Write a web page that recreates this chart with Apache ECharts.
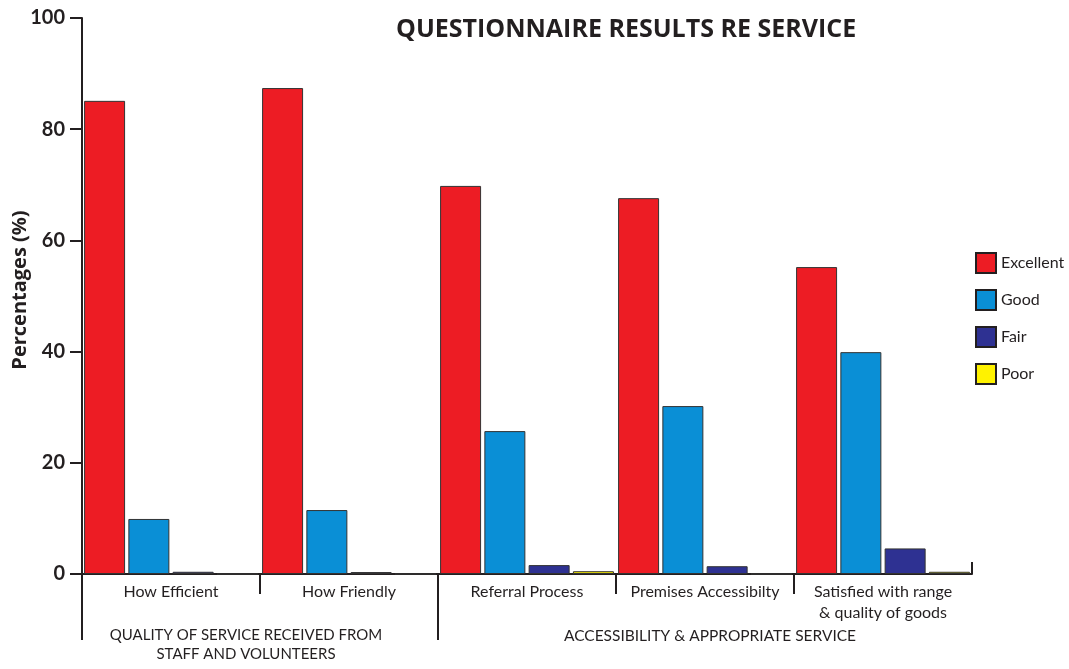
<!DOCTYPE html>
<html>
<head>
<meta charset="utf-8">
<script src="https://cdn.jsdelivr.net/npm/echarts@6/dist/echarts.min.js"></script>
<style>html,body{margin:0;padding:0;background:#fff}#c{width:1069px;height:669px}</style>
</head>
<body>
<div id="c"></div>
<script>
const categories = ['How Efficient', 'How Friendly', 'Referral Process', 'Premises Accessibilty', 'Satisfied with range\n& quality of goods'];
const seriesNames = ['Excellent', 'Good', 'Fair', 'Poor'];
const excellent = [85.1, 87.4, 69.8, 67.6, 55.2];
const good = [9.9, 11.5, 25.7, 30.2, 39.9];
const fair = [0.4, 0.35, 1.6, 1.4, 4.6];
const poor = [0, 0, 0.5, 0, 0.4];
const yTicks = [0, 20, 40, 60, 80, 100];
const groupLabels = ['QUALITY OF SERVICE RECEIVED FROM\nSTAFF AND VOLUNTEERS', 'ACCESSIBILITY & APPROPRIATE SERVICE'];
const titleText = 'QUESTIONNAIRE RESULTS RE SERVICE';

const colors = ['#ed1c24', '#0a8fd6', '#2e3192', '#fff200'];
const ink = '#231f20';
const FONT = 'Lato';
const BOLDFONT = 'Open Sans';

const chart = echarts.init(document.getElementById('c'), null, {renderer: 'canvas'});
const values = [excellent, good, fair, poor];

function tickAxis(vals, len, inside) {
  return {
    type: 'value', position: 'bottom', min: 0, max: 5, gridIndex: 0,
    axisLine: {show: false}, axisLabel: {show: false}, splitLine: {show: false},
    axisTick: {show: true, customValues: vals, length: len, inside: !!inside, lineStyle: {color: ink, width: 2}}
  };
}

chart.setOption({
  animation: false,
  color: colors,
  textStyle: {fontFamily: FONT},
  title: {
    text: titleText, left: 391, top: 12,
    textStyle: {fontFamily: BOLDFONT, fontSize: 25, fontWeight: 'bold', color: ink}
  },
  legend: {
    orient: 'vertical', left: 970, top: 247,
    itemWidth: 20, itemHeight: 20, itemGap: 15, icon: 'rect',
    data: seriesNames,
    itemStyle: {borderColor: ink, borderWidth: 2},
    textStyle: {fontFamily: FONT, fontSize: 16, color: ink}
  },
  grid: {left: 82, right: 97, top: 18, bottom: 95, containLabel: false, outerBoundsMode: 'none'},
  xAxis: [
    {
      type: 'category', data: categories, position: 'bottom',
      axisLine: {show: true, lineStyle: {color: ink, width: 2}},
      axisTick: {show: false},
      axisLabel: {color: ink, fontFamily: FONT, fontSize: 16, margin: 7, lineHeight: 21, interval: 0}
    },
    tickAxis([1, 3, 4], 20, false),
    tickAxis([0, 2], 66, false),
    tickAxis([5], 12, true)
  ],
  yAxis: {
    type: 'value', min: 0, max: 100, interval: 20,
    name: 'Percentages (%)', nameLocation: 'middle', nameRotate: 90, nameGap: 52,
    nameMoveOverlap: false,
    nameTextStyle: {fontFamily: BOLDFONT, fontSize: 20, fontWeight: 'bold', color: ink, padding: [0, 0, 0, 12]},
    axisLine: {show: true, lineStyle: {color: ink, width: 2}},
    axisTick: {show: true, length: 12, lineStyle: {color: ink, width: 2}},
    axisLabel: {color: ink, fontFamily: FONT, fontSize: 20, fontWeight: 'bold', margin: 17},
    splitLine: {show: false}
  },
  graphic: [
    {type: 'text', x: 246, y: 626, style: {text: groupLabels[0], fill: ink, font: '15px ' + FONT, textAlign: 'center', lineHeight: 19}},
    {type: 'text', x: 710, y: 626, style: {text: groupLabels[1], fill: ink, font: '15.5px ' + FONT, textAlign: 'center', lineHeight: 19}}
  ],
  series: seriesNames.map((n, i) => ({
    name: n, type: 'bar', xAxisIndex: 0, data: values[i],
    barWidth: 41, barGap: '8%',
    itemStyle: {color: colors[i], borderColor: '#333', borderWidth: 1}
  }))
});
</script>
</body>
</html>
